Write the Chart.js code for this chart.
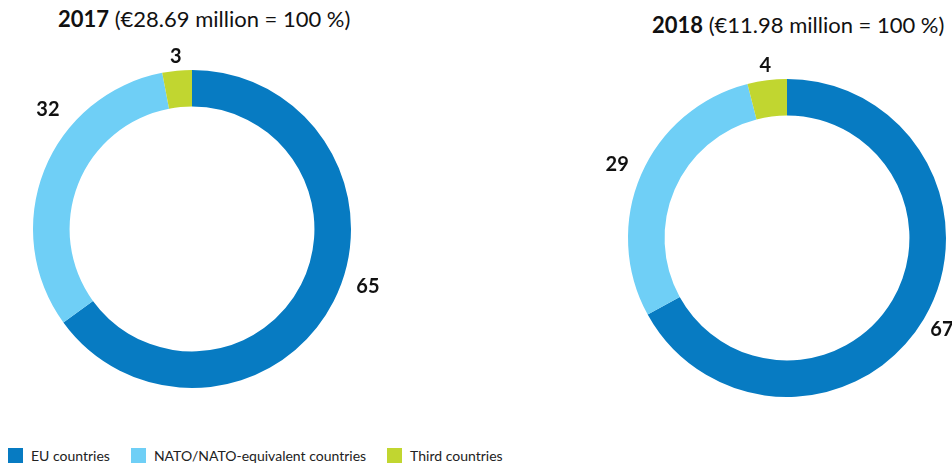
<!DOCTYPE html>
<html>
<head>
<meta charset="utf-8">
<script src="https://cdn.jsdelivr.net/npm/chart.js@4/dist/chart.umd.min.js"></script>
<style>
  body { margin: 0; width: 952px; height: 465px; background: #fff; position: relative; overflow: hidden; font-family: Lato, "Noto Sans", sans-serif; color: #111; }
  .title { position: absolute; font-size: 22px; white-space: nowrap; }
  .title b { font-weight: 700; }
  .box { position: absolute; }
  .legend { position: absolute; left: 8px; top: 447px; display: flex; font-size: 14px; color: #222; }
  .legend span.item { display: flex; align-items: center; margin-right: 21px; }
  .legend i { display: inline-block; width: 15px; height: 15px; margin-right: 8px; }
</style>
</head>
<body>
<div class="title" id="t0" style="left:58px; top:5px;"></div>
<div class="title" id="t1" style="left:652px; top:11px;"></div>
<div class="box" style="left:0; top:40px; width:400px; height:390px;"><canvas id="c0"></canvas></div>
<div class="box" style="left:552px; top:40px; width:400px; height:400px;"><canvas id="c1"></canvas></div>
<div class="legend" id="legend"></div>
<script>
// Categories and colours
const categories = ['EU countries', 'NATO/NATO-equivalent countries', 'Third countries'];
const colors = ['#077bc2', '#6fcff6', '#c1d630'];

// Years, totals and shares (%)
const years = ['2017', '2018'];
const totals = ['€28.69 million', '€11.98 million'];
const shares2017 = [65, 32, 3];
const shares2018 = [67, 29, 4];

// Outside labels, placed radially from each arc's mid-angle
const outsideLabels = {
  id: 'outsideLabels',
  afterDraw(chart, args, opts) {
    const ctx = chart.ctx;
    const meta = chart.getDatasetMeta(0);
    ctx.save();
    ctx.font = 'bold 20px Lato, "Noto Sans", sans-serif';
    ctx.fillStyle = '#111';
    ctx.textAlign = 'center';
    ctx.textBaseline = 'middle';
    meta.data.forEach((arc, i) => {
      const p = arc.getProps(['x', 'y', 'startAngle', 'endAngle', 'outerRadius']);
      const nudge = (opts.nudge && opts.nudge[i]) || 0;
      const a = (p.startAngle + p.endAngle) / 2 + nudge * Math.PI / 180;
      const r = p.outerRadius + opts.gap[i];
      ctx.fillText(String(chart.data.datasets[0].data[i]), p.x + Math.cos(a) * r, p.y + Math.sin(a) * r);
    });
    ctx.restore();
  }
};

function makeDonut(id, values, padding, labelOpts) {
  return new Chart(document.getElementById(id), {
    type: 'doughnut',
    data: {
      labels: categories,
      datasets: [{ data: values, backgroundColor: colors, borderWidth: 0 }]
    },
    options: {
      responsive: true,
      maintainAspectRatio: false,
      animation: false,
      cutout: '77%',
      layout: { padding },
      plugins: {
        legend: { display: false },
        tooltip: { enabled: false },
        outsideLabels: labelOpts
      }
    },
    plugins: [outsideLabels]
  });
}

makeDonut('c0', shares2017, { left: 33, top: 30, right: 49, bottom: 42 }, { gap: [26, 28, 14], nudge: [-9, 18, 0] });
makeDonut('c1', shares2018, { left: 76, top: 39, right: 6, bottom: 43 }, { gap: [21, 26, 15], nudge: [0, 0, 0] });

// Titles
[0, 1].forEach((i) => {
  document.getElementById('t' + i).innerHTML = '<b>' + years[i] + '</b> (' + totals[i] + ' = 100\u202F%)';
});

// Legend
const legend = document.getElementById('legend');
categories.forEach((c, i) => {
  const item = document.createElement('span');
  item.className = 'item';
  const sw = document.createElement('i');
  sw.style.background = colors[i];
  item.appendChild(sw);
  item.appendChild(document.createTextNode(c));
  legend.appendChild(item);
});
</script>
</body>
</html>
